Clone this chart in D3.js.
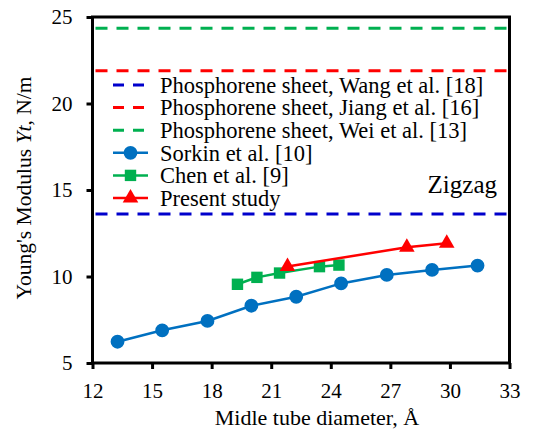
<!DOCTYPE html>
<html><head><meta charset="utf-8">
<script src="https://cdn.jsdelivr.net/npm/d3@7"></script>
<style>body{margin:0;background:#fff}svg{display:block}</style>
</head><body><svg id="c" width="551" height="431"></svg>
<script>
const xTicks = [12,15,18,21,24,27,30,33];
const yTicks = [5,10,15,20,25];
const sorkinX = [13.26,15.51,17.79,20.0,22.26,24.52,26.82,29.1,31.39];
const sorkinY = [6.23,6.89,7.43,8.31,8.83,9.6,10.09,10.38,10.63];
const chenX = [19.3,20.28,21.42,23.43,24.41];
const chenY = [9.55,9.95,10.2,10.57,10.66];
const presentX = [21.82,27.83,29.84];
const presentY = [10.58,11.69,11.92];
const sheetNames = ["Phosphorene sheet, Wang et al. [18]","Phosphorene sheet, Jiang et al. [16]","Phosphorene sheet, Wei et al. [13]"];
const sheetValues = [13.61,21.9,24.35];
const seriesNames = ["Sorkin et al. [10]","Chen et al. [9]","Present study"];

const FF = "Liberation Serif";
const svg = d3.select("#c");
const x = d3.scaleLinear().domain([12,33]).range([92.5,509.5]);
const y = d3.scaleLinear().domain([5,25]).range([363,17]);

const sheetColors = ["#0000CC","#FF0000","#00B050"];
const seriesColors = ["#0070C0","#00B050","#FF0000"];

sheetValues.forEach((v,i)=>{
  svg.append("line").attr("x1",x(12)+3).attr("x2",x(33)-2).attr("y1",y(v)).attr("y2",y(v))
    .attr("stroke",sheetColors[i]).attr("stroke-width",3).attr("stroke-dasharray","12,9");
});

const line = d3.line();
const series = [[sorkinX,sorkinY],[chenX,chenY],[presentX,presentY]];
const sym = [d3.symbolCircle,d3.symbolSquare,d3.symbolTriangle];
const symSize = [150,130,105];
series.forEach(([xs,ys],i)=>{
  const pts = xs.map((d,j)=>[x(d),y(ys[j])]);
  svg.append("path").attr("d",line(pts)).attr("fill","none").attr("stroke",seriesColors[i]).attr("stroke-width",2.5);
  svg.selectAll(null).data(pts).enter().append("path")
    .attr("d",d3.symbol(sym[i],symSize[i])).attr("transform",d=>`translate(${d[0]},${d[1]})`)
    .attr("fill",seriesColors[i]);
});

svg.append("rect").attr("x",x(12)).attr("y",y(25)).attr("width",x(33)-x(12)).attr("height",y(5)-y(25))
  .attr("fill","none").attr("stroke","#000").attr("stroke-width",3);

const xAxis = svg.append("g").attr("transform",`translate(0,${y(5)})`)
  .call(d3.axisBottom(x).tickValues(xTicks).tickSize(6).tickPadding(14));
const yAxis = svg.append("g").attr("transform",`translate(${x(12)},0)`)
  .call(d3.axisLeft(y).tickValues(yTicks).tickSize(6).tickPadding(14));
[xAxis,yAxis].forEach(a=>{
  a.attr("font-family",FF).attr("font-size",21);
  a.select(".domain").remove();
  a.selectAll(".tick line").attr("stroke","#000").attr("stroke-width",3);
  a.selectAll(".tick text").attr("fill","#000").attr("font-family",FF).attr("font-size",21);
});

const lx1 = 113, lx2 = 148, tx = 160, ly0 = 85, dy = 22.6;
const allNames = sheetNames.concat(seriesNames);
allNames.forEach((n,i)=>{
  const yy = ly0 + i*dy;
  if (i<3) {
    svg.append("line").attr("x1",lx1).attr("x2",lx2).attr("y1",yy).attr("y2",yy)
      .attr("stroke",sheetColors[i]).attr("stroke-width",3).attr("stroke-dasharray","11,9");
  } else {
    const k=i-3;
    svg.append("line").attr("x1",lx1).attr("x2",lx2).attr("y1",yy).attr("y2",yy)
      .attr("stroke",seriesColors[k]).attr("stroke-width",2.5);
    svg.append("path").attr("d",d3.symbol(sym[k],symSize[k])).attr("transform",`translate(${(lx1+lx2)/2},${yy})`)
      .attr("fill",seriesColors[k]);
  }
  svg.append("text").attr("x",tx).attr("y",yy).attr("dy","0.35em")
    .attr("font-family",FF).attr("font-size",22.5).attr("fill","#000").text(n);
});

svg.append("text").attr("x",497).attr("y",193).attr("text-anchor","end")
  .attr("font-family",FF).attr("font-size",25).attr("fill","#000").text("Zigzag");

svg.append("text").attr("x",317).attr("y",425).attr("text-anchor","middle")
  .attr("font-family",FF).attr("font-size",22).attr("fill","#000").text("Midle tube diameter, Å");

const yl = svg.append("text").attr("transform","translate(31,188) rotate(-90)").attr("text-anchor","middle")
  .attr("font-family",FF).attr("font-size",21.5).attr("fill","#000");
yl.append("tspan").text("Young's Modulus ");
yl.append("tspan").attr("font-style","italic").text("Yt");
yl.append("tspan").text(", N/m");
</script></body></html>
